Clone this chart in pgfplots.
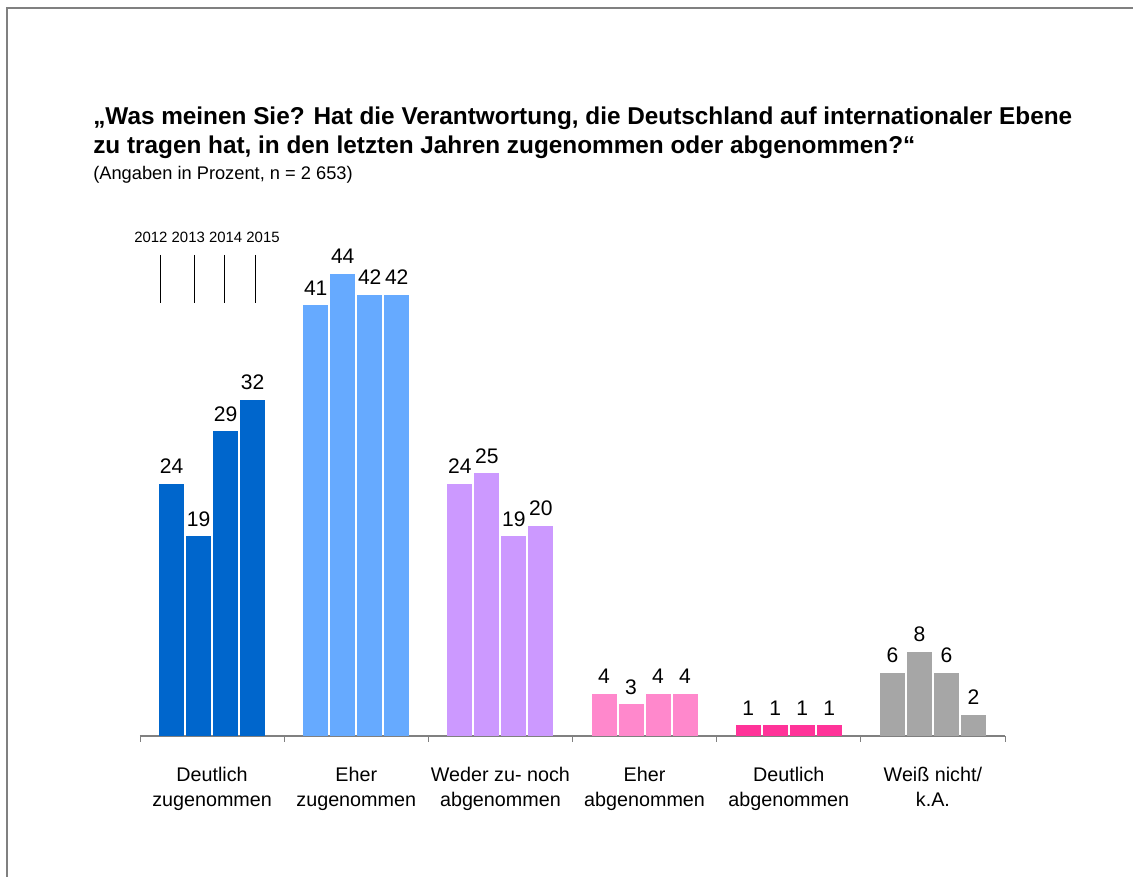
\documentclass[border=0pt]{standalone}
\usepackage{fontspec}
\setmainfont{Liberation Sans}
\usepackage{pgfplots}
\pgfplotsset{compat=1.18}
\definecolor{c1}{RGB}{0,102,204}
\definecolor{c2}{RGB}{102,170,255}
\definecolor{c3}{RGB}{204,153,255}
\definecolor{c4}{RGB}{255,136,204}
\definecolor{c5}{RGB}{255,51,153}
\definecolor{c6}{RGB}{166,166,166}
\definecolor{framegray}{RGB}{128,128,128}
\pgfplotsset{bs/.style={bar shift=#1, every node near coord/.append style={xshift=#1}}}
\begin{document}
\begin{tikzpicture}
\begin{axis}[
  name=ax, scale only axis,
  width=648.75pt, height=346.5pt,
  xmin=-0.5, xmax=5.5, ymin=0, ymax=44, clip=false,
  axis y line=none, axis x line*=bottom,
  x axis line style={framegray, line width=1.2pt},
  xtick={0,...,5},
  xticklabels={{Deutlich\\zugenommen},{Eher\\zugenommen},{Weder zu- noch\\abgenommen},{Eher\\abgenommen},{Deutlich\\abgenommen},{Weiß nicht/\\k.A.}},
  major tick length=0pt,
  minor xtick={-0.5,0.5,...,5.5},
  tick align=outside,
  minor tick length=4.5pt,
  minor tick style={framegray, line width=0.6pt},
  xticklabel style={align=center, font=\fontsize{14.8}{18.75}\selectfont, anchor=north, yshift=-20pt},
  /pgf/number format/assume math mode=true,
  every axis plot/.append style={ybar, bar width=18.75pt, draw=none,
    nodes near coords,
    nodes near coords style={font=\fontsize{15.8}{18}\selectfont, text=black, anchor=base, inner sep=0pt, yshift=7.8pt}},
]
% Deutlich zugenommen
\addplot[fill=c1, bs=-30.375pt] coordinates {(0,24)};
\addplot[fill=c1, bs=-10.125pt] coordinates {(0,19)};
\addplot[fill=c1, bs=10.125pt] coordinates {(0,29)};
\addplot[fill=c1, bs=30.375pt] coordinates {(0,32)};
% Eher zugenommen
\addplot[fill=c2, bs=-30.375pt] coordinates {(1,41)};
\addplot[fill=c2, bs=-10.125pt] coordinates {(1,44)};
\addplot[fill=c2, bs=10.125pt] coordinates {(1,42)};
\addplot[fill=c2, bs=30.375pt] coordinates {(1,42)};
% Weder zu- noch abgenommen
\addplot[fill=c3, bs=-30.375pt] coordinates {(2,24)};
\addplot[fill=c3, bs=-10.125pt] coordinates {(2,25)};
\addplot[fill=c3, bs=10.125pt] coordinates {(2,19)};
\addplot[fill=c3, bs=30.375pt] coordinates {(2,20)};
% Eher abgenommen
\addplot[fill=c4, bs=-30.375pt] coordinates {(3,4)};
\addplot[fill=c4, bs=-10.125pt] coordinates {(3,3)};
\addplot[fill=c4, bs=10.125pt] coordinates {(3,4)};
\addplot[fill=c4, bs=30.375pt] coordinates {(3,4)};
% Deutlich abgenommen
\addplot[fill=c5, bs=-30.375pt] coordinates {(4,1)};
\addplot[fill=c5, bs=-10.125pt] coordinates {(4,1)};
\addplot[fill=c5, bs=10.125pt] coordinates {(4,1)};
\addplot[fill=c5, bs=30.375pt] coordinates {(4,1)};
% Weiss nicht / k.A.
\addplot[fill=c6, bs=-30.375pt] coordinates {(5,6)};
\addplot[fill=c6, bs=-10.125pt] coordinates {(5,8)};
\addplot[fill=c6, bs=10.125pt] coordinates {(5,6)};
\addplot[fill=c6, bs=30.375pt] coordinates {(5,2)};
\end{axis}
\begin{scope}[shift={(ax.south west)}, x=0.75pt, y=0.75pt]
\path[use as bounding box] (-140,-141) rectangle (993,736);
\draw[framegray, line width=1.1pt] (-133,-141) -- (-133,728) -- (1000,728);
\node[anchor=base west, inner sep=0pt, font=\fontsize{18.25}{22}\selectfont\bfseries] at (-47,611) {„Was meinen Sie? Hat die Verantwortung, die Deutschland auf internationaler Ebene};
\node[anchor=base west, inner sep=0pt, font=\fontsize{18.25}{22}\selectfont\bfseries] at (-47,582) {zu tragen hat, in den letzten Jahren zugenommen oder abgenommen?“};
\node[anchor=base west, inner sep=0pt, font=\fontsize{13.7}{16}\selectfont] at (-47,556) {(Angaben in Prozent, n = 2 653)};
\node[font=\fontsize{11.2}{13}\selectfont, inner sep=0pt] at (67,499) {2012 2013 2014 2015};
\foreach \xx in {20,54,84,115} \draw[black, line width=0.6pt] (\xx,481) -- (\xx,433);
\end{scope}
\end{tikzpicture}
\end{document}
